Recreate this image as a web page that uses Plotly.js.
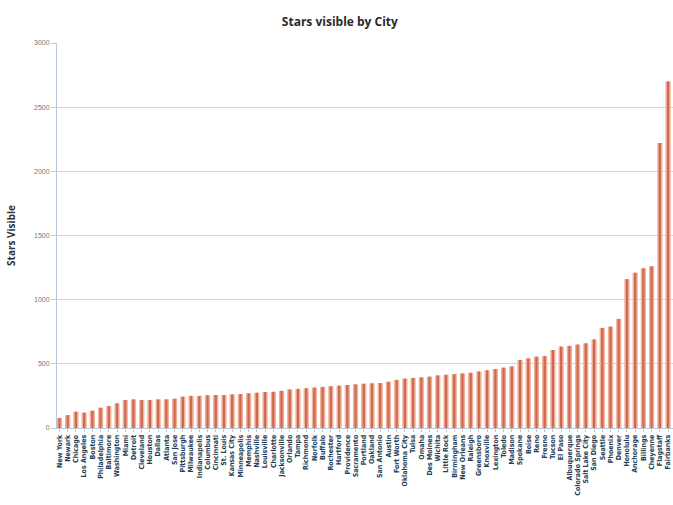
<!DOCTYPE html>
<html>
<head>
<meta charset="utf-8">
<script src="https://cdn.plot.ly/plotly-3.0.1.min.js"></script>
<style>html,body{margin:0;padding:0;background:#fff;}#chart{width:673px;height:505px;}</style>
</head>
<body>
<div id="chart"></div>
<script>
const cities = ["New York","Newark","Chicago","Los Angeles","Boston","Philadelphia","Baltimore","Washington","Miami","Detroit",
"Cleveland","Houston","Dallas","Atlanta","San Jose","Pittsburgh","Milwaukee","Indianapolis","Columbus","Cincinnati",
"St. Louis","Kansas City","Minneapolis","Memphis","Nashville","Louisville","Charlotte","Jacksonville","Orlando","Tampa",
"Richmond","Norfolk","Buffalo","Rochester","Hartford","Providence","Sacramento","Portland","Oakland","San Antonio",
"Austin","Fort Worth","Oklahoma City","Tulsa","Omaha","Des Moines","Wichita","Little Rock","Birmingham","New Orleans",
"Raleigh","Greensboro","Knoxville","Lexington","Toledo","Madison","Spokane","Boise","Reno","Fresno",
"Tucson","El Paso","Albuquerque","Colorado Springs","Salt Lake City","San Diego","Seattle","Phoenix","Denver","Honolulu",
"Anchorage","Billings","Cheyenne","Flagstaff","Fairbanks"];
const starsVisible = [78,100,127,120,135,158,171,192,218,223,
218,218,223,223,228,244,250,250,255,257,
257,262,265,270,275,280,282,290,300,305,
310,315,320,325,330,335,340,345,348,350,
360,375,385,390,395,400,410,415,420,425,
430,440,450,460,470,480,530,543,556,560,
608,634,640,650,660,690,780,790,850,1160,
1210,1245,1260,2220,2700];
const yTicks = [0,500,1000,1500,2000,2500,3000];

const traces = [
  {type:'bar', x:cities, y:starsVisible, width:0.64, marker:{color:'#f1b29b', line:{width:0}}, hoverinfo:'x+y'},
  {type:'bar', x:cities, y:starsVisible, width:0.28, marker:{color:'#cf6a52', line:{width:0}}, hoverinfo:'skip'}
];
const layout = {
  width:673, height:505,
  margin:{l:57, r:0, t:43, b:77},
  paper_bgcolor:'#fff', plot_bgcolor:'#fff',
  barmode:'overlay', showlegend:false,
  title:{text:'<b>Stars visible by City</b>', x:0.505, xanchor:'center', y:0.957, yanchor:'middle',
         font:{family:'Open Sans, Liberation Sans, sans-serif', size:12, color:'#2a2a2a'}},
  xaxis:{type:'category', range:[-0.3,74.6], tickmode:'array', tickvals:cities, ticktext:cities,
         tickangle:-90, tickfont:{family:'Liberation Sans Narrow, DejaVu Sans Condensed, sans-serif', size:7, color:'#243d55', weight:'bold'},
         showline:true, linecolor:'#b9c9d8', linewidth:1, ticks:'outside', ticklen:3, tickcolor:'#b9c9d8',
         showgrid:false, zeroline:false, fixedrange:true},
  yaxis:{range:[0,3000], tickmode:'array', tickvals:yTicks, ticktext:yTicks.map(String),
         tickfont:{family:'Liberation Sans, sans-serif', size:7, color:'#777'},
         showline:true, linecolor:'#b9c9d8', linewidth:1, ticks:'outside', ticklen:5, tickcolor:'#b9c9d8',
         gridcolor:'#c9d7e3', gridwidth:1, zeroline:false,
         title:{text:'<b>Stars Visible</b>', standoff:16, font:{family:'Open Sans, Liberation Sans, sans-serif', size:10, color:'#333'}}}
};
Plotly.newPlot('chart', traces, layout, {displayModeBar:false, staticPlot:true});
</script>
</body>
</html>
